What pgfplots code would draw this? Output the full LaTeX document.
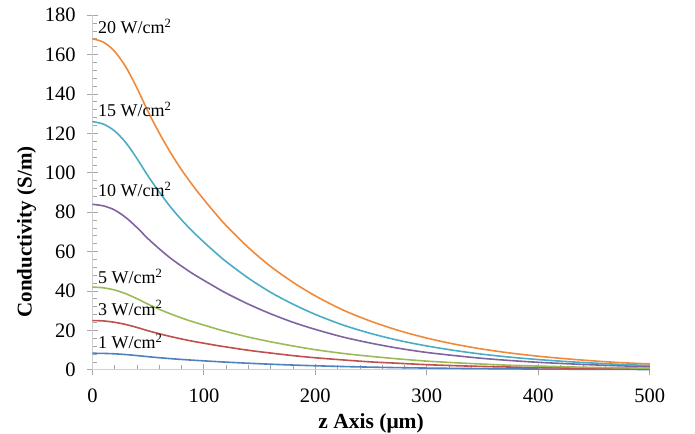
\documentclass[border=0pt]{standalone}
\usepackage{fontspec}
\setmainfont{Liberation Serif}
\usepackage{pgfplots}
\pgfplotsset{compat=1.18}
\usepackage{pgfplotstable}
\definecolor{cBlue}{HTML}{4F81BD}
\definecolor{cRed}{HTML}{C0504D}
\definecolor{cGreen}{HTML}{9BBB59}
\definecolor{cPurple}{HTML}{8064A2}
\definecolor{cAqua}{HTML}{4BACC6}
\definecolor{cOrange}{HTML}{F08A3A}
\pgfplotstableread{
z O C P G R B
0 168 126 84 42 25 8.4
10 166.3 124.7 83.2 41.6 24.8 8.32
20 161.6 121.2 81.1 40.5 24.1 8.11
30 153.7 115.3 77.3 38.6 23.0 7.73
40 143.0 107.2 72.2 36.1 21.5 7.22
50 131.0 98.3 66.5 33.3 19.8 6.65
60 120.2 90.2 61.4 30.7 18.3 6.14
70 110.3 82.7 56.7 28.4 16.9 5.67
80 101.5 76.1 52.6 26.3 15.65 5.26
90 93.6 70.2 48.8 24.4 14.5 4.88
100 86.4 64.8 45.4 22.7 13.5 4.54
110 79.6 59.7 42.1 21.0 12.5 4.21
120 73.2 54.9 38.9 19.4 11.6 3.89
140 62.0 46.5 33.3 16.6 9.9 3.33
160 52.4 39.3 28.4 14.2 8.5 2.84
180 44.4 33.3 24.1 12.1 7.2 2.41
200 37.5 28.1 20.5 10.2 6.1 2.05
225 30.3 22.7 16.6 8.3 5.0 1.66
250 24.6 18.4 13.5 6.8 4.0 1.35
275 19.9 14.9 10.9 5.5 3.3 1.09
300 16.1 12.1 8.8 4.4 2.6 0.88
325 13.0 9.8 7.2 3.6 2.1 0.72
350 10.5 7.9 5.8 2.9 1.7 0.58
375 8.5 6.4 4.7 2.3 1.4 0.47
400 6.9 5.2 3.8 1.9 1.1 0.38
425 5.6 4.2 3.1 1.5 0.91 0.31
450 4.5 3.4 2.5 1.2 0.74 0.25
475 3.6 2.7 2.0 1.0 0.60 0.20
500 3.0 2.2 1.6 0.8 0.49 0.16
}\data
\begin{document}
\begin{tikzpicture}
\useasboundingbox (-92.4bp,-64.2bp) rectangle (602.6bp,369.8bp);
\begin{axis}[
  at={(0,0)}, anchor=south west,
  scale only axis, width=557.4bp, height=354.6bp,
  xmin=0, xmax=500, ymin=0, ymax=180,
  xtick={0,100,...,500}, ytick={0,20,...,180},
  minor x tick num=4, minor y tick num=4,
  axis x line*=bottom, axis y line*=left,
  axis line style={draw=black!18, line width=0.8bp},
  tick align=center,
  major tick length=11bp, minor tick length=5bp,
  every tick/.style={draw=black!35, line width=0.8bp},
  minor x tick style={yshift=2.5bp},
  minor y tick style={xshift=2.5bp},
  /pgf/number format/assume math mode=true,
  ticklabel style={font=\fontsize{20.5bp}{24bp}\selectfont, inner sep=0pt},
  yticklabel style={anchor=east, xshift=-11bp},
  xticklabel style={anchor=north, yshift=-13bp},
  label style={font=\fontsize{21.5bp}{25bp}\selectfont\bfseries},
  xlabel={z Axis (μm)}, ylabel={Conductivity (S/m)},
  xlabel style={at={(axis cs:250,-29.7)}, anchor=base},
  ylabel style={at={(axis cs:-54.6,70)}, anchor=base, font=\fontsize{21bp}{25bp}\selectfont\bfseries},
  clip=false,
  every axis plot/.append style={line width=1.6bp, smooth},
]
\addplot[cBlue] table[x=z, y=B] {\data};
\addplot[cRed] table[x=z, y=R] {\data};
\addplot[cGreen] table[x=z, y=G] {\data};
\addplot[cPurple] table[x=z, y=P] {\data};
\addplot[cAqua] table[x=z, y=C] {\data};
\addplot[cOrange] table[x=z, y=O] {\data};
\begin{scope}[every node/.style={anchor=base west, inner sep=0pt, font=\fontsize{18bp}{21bp}\selectfont}]
\node at (axis cs:5,170.8) {20 W/cm\textsuperscript{2}};
\node at (axis cs:5,128.5) {15 W/cm\textsuperscript{2}};
\node at (axis cs:5,88) {10 W/cm\textsuperscript{2}};
\node at (axis cs:5,43.9) {5 W/cm\textsuperscript{2}};
\node at (axis cs:5,27.8) {3 W/cm\textsuperscript{2}};
\node at (axis cs:5,10.9) {1 W/cm\textsuperscript{2}};
\end{scope}
\end{axis}
\end{tikzpicture}
\end{document}
